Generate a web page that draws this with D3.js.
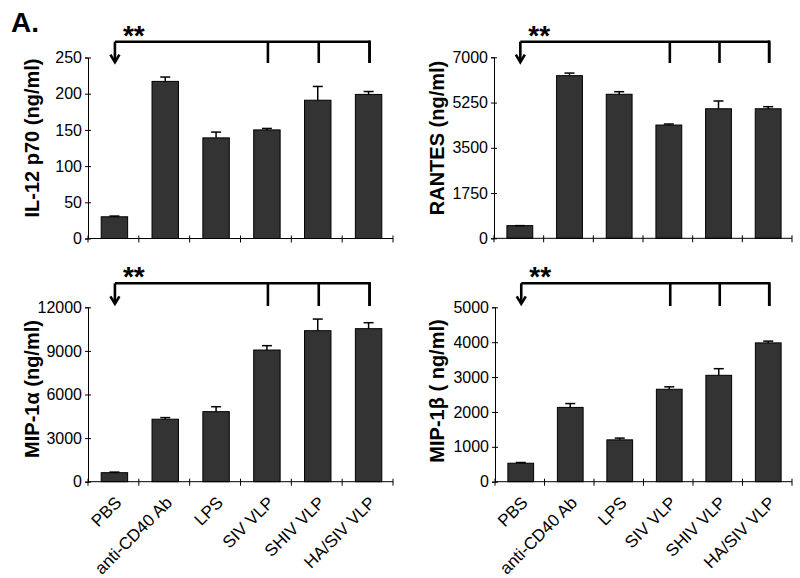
<!DOCTYPE html>
<html><head><meta charset="utf-8">
<script src="https://cdn.jsdelivr.net/npm/d3@7"></script>
<style>body{margin:0;background:#fff;} svg{display:block;}</style>
</head><body>
<svg id="c" width="800" height="578"></svg>
<script>
const categories = ["PBS","anti-CD40 Ab","LPS","SIV VLP","SHIV VLP","HA/SIV VLP"];
const il12 = [30, 217, 139, 150, 191, 199];
const il12Err = [1, 6, 8, 2, 19, 4];
const il12Ticks = [0, 50, 100, 150, 200, 250];
const rantes = [490, 6290, 5570, 4380, 5010, 5010];
const rantesErr = [0, 100, 100, 40, 300, 80];
const rantesTicks = [0, 1750, 3500, 5250, 7000];
const mip1a = [620, 4300, 4820, 9060, 10390, 10530];
const mip1aErr = [40, 110, 340, 300, 800, 410];
const mip1aTicks = [0, 3000, 6000, 9000, 12000];
const mip1b = [530, 2130, 1200, 2650, 3050, 3980];
const mip1bErr = [20, 110, 50, 70, 190, 50];
const mip1bTicks = [0, 1000, 2000, 3000, 4000, 5000];

const svg = d3.select("#c");
svg.append("rect").attr("width",800).attr("height",578).attr("fill","#fff");
const FONT = "'Liberation Sans', Arial, sans-serif";

const panels = [
  {vals: il12, err: il12Err, ticks: il12Ticks, title: "IL-12 p70 (ng/ml)", x0: 88, x1: 393, yTop: 57.5, yBot: 238.5, titleX: 38.5, titleY: 138, brY: 41.7, brBot: 63, labels: false},
  {vals: rantes, err: rantesErr, ticks: rantesTicks, title: "RANTES (ng/ml)", x0: 494, x1: 792, yTop: 57.3, yBot: 238.3, titleX: 443.5, titleY: 138, brY: 41.7, brBot: 63, labels: false},
  {vals: mip1a, err: mip1aErr, ticks: mip1aTicks, title: "MIP-1α (ng/ml)", x0: 88, x1: 393, yTop: 307.3, yBot: 481.7, titleX: 38.5, titleY: 389, brY: 283.3, brBot: 306, labels: true},
  {vals: mip1b, err: mip1bErr, ticks: mip1bTicks, title: "MIP-1β ( ng/ml)", x0: 495, x1: 792, yTop: 307.3, yBot: 481.7, titleX: 443.5, titleY: 391, brY: 283.3, brBot: 306, labels: true}
];

const pad = 0.48;
panels.forEach(p => {
  const g = svg.append("g");
  const x = d3.scaleBand().domain(categories).range([p.x0, p.x1]).paddingInner(pad).paddingOuter(pad/2);
  const y = d3.scaleLinear().domain([p.ticks[0], p.ticks[p.ticks.length-1]]).range([p.yBot, p.yTop]);
  const data = categories.map((c,i) => ({c, v: p.vals[i], e: p.err[i]}));

  g.selectAll("rect.bar").data(data).enter().append("rect")
    .attr("x", d => x(d.c) + 1).attr("width", x.bandwidth())
    .attr("y", d => y(d.v)).attr("height", d => y(0) - y(d.v))
    .attr("fill", "#333").attr("stroke", "#000").attr("stroke-width", 1);

  const eb = g.selectAll("g.eb").data(data).enter().append("g");
  const bc = d => x(d.c) + 1 + x.bandwidth()/2;
  eb.append("line")
    .attr("x1", bc).attr("x2", bc)
    .attr("y1", d => y(d.v)).attr("y2", d => y(d.v + d.e))
    .attr("stroke", "#000").attr("stroke-width", 1.5);
  eb.append("line")
    .attr("x1", d => bc(d) - 5).attr("x2", d => bc(d) + 5)
    .attr("y1", d => y(d.v + d.e)).attr("y2", d => y(d.v + d.e))
    .attr("stroke", "#000").attr("stroke-width", 1.5);

  const ya = g.append("g").attr("transform", `translate(${p.x0},0)`)
    .call(d3.axisLeft(y).tickValues(p.ticks).tickSize(3).tickPadding(3).tickFormat(d3.format("d")));
  ya.select(".domain").attr("stroke", "#000");
  ya.selectAll(".tick line").attr("x1", 3).attr("stroke", "#000");
  ya.selectAll(".tick text").attr("font-family", FONT).attr("font-size", 16).attr("fill", "#000");

  const xa = g.append("g").attr("transform", `translate(0,${p.yBot})`);
  xa.append("line").attr("x1", p.x0).attr("x2", p.x1).attr("stroke", "#000");
  const edges = categories.map(c => x(c) - x.step()*pad/2).concat([p.x1]);
  xa.selectAll("line.t").data(edges).enter().append("line")
    .attr("x1", d => d).attr("x2", d => d).attr("y1", -3).attr("y2", 4).attr("stroke", "#000");
  if (p.labels) {
    xa.selectAll("text").data(categories).enter().append("text")
      .attr("transform", d => `translate(${x(d) + x.bandwidth()/2 + 9},22) rotate(-45)`)
      .attr("text-anchor", "end").attr("font-family", FONT).attr("font-size", 17).attr("fill", "#000")
      .text(d => d);
  }

  g.append("text").attr("transform", `translate(${p.titleX},${p.titleY}) rotate(-90)`)
    .attr("text-anchor", "middle").attr("font-family", FONT).attr("font-weight", "bold")
    .attr("font-size", 20).attr("fill", "#000").text(p.title);

  const cx = c => x(c) + x.bandwidth()/2;
  const ax = cx(categories[0]) + 1.5;
  const sig = categories.slice(3).map(c => cx(c) + 2);
  const br = g.append("g").attr("stroke", "#000").attr("stroke-width", 2.6).attr("fill", "none");
  br.append("line").attr("x1", ax).attr("x2", sig[sig.length-1]).attr("y1", p.brY).attr("y2", p.brY);
  br.append("line").attr("x1", ax).attr("x2", ax).attr("y1", p.brY).attr("y2", p.brY + 20);
  br.append("path").attr("d", `M${ax-4.5},${p.brY+13} L${ax},${p.brY+20.5} L${ax+4.5},${p.brY+13}`);
  sig.forEach(s => br.append("line").attr("x1", s).attr("x2", s).attr("y1", p.brY).attr("y2", p.brBot));
  br.append("line").attr("x1", sig[sig.length-1]).attr("x2", sig[sig.length-1]).attr("y1", p.brY - 1.3).attr("y2", p.brBot);
  g.append("text").attr("x", ax + 8).attr("y", p.brY + 3).attr("font-family", FONT)
    .attr("font-weight", "bold").attr("font-size", 28).attr("fill", "#000").text("**");
});

svg.append("text").attr("x", 11).attr("y", 32).attr("font-family", FONT).attr("font-weight", "bold")
  .attr("font-size", 28).attr("fill", "#000").text("A.");
</script>
</body></html>
